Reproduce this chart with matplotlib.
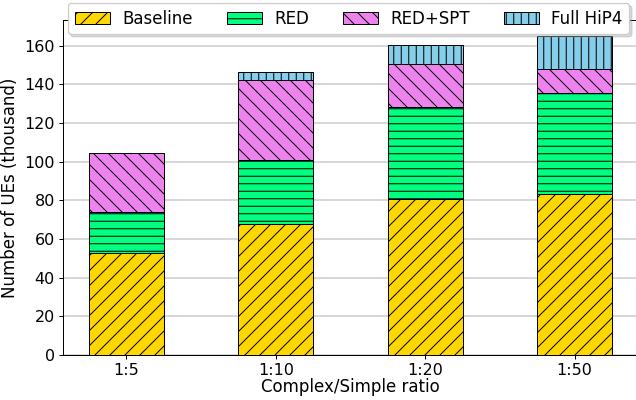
import matplotlib
matplotlib.use("Agg")
import matplotlib.pyplot as plt
import numpy as np

ratios = ["1:5", "1:10", "1:20", "1:50"]
# stacked increments (thousand UEs)
baseline = [53.0, 67.5, 80.5, 83.5]
red = [21.0, 33.5, 48.0, 52.0]
red_spt = [30.5, 41.0, 22.0, 12.5]
full_hip4 = [0.0, 4.5, 10.0, 17.0]

labels = ["Baseline", "RED", "RED+SPT", "Full HiP4"]
colors = ["gold", "springgreen", "violet", "skyblue"]
hatches = ["//", "--", "\\\\", "||"]

DPI = 90
plt.rcParams["hatch.linewidth"] = 0.8
plt.rcParams["font.size"] = 13.3

fig = plt.figure(figsize=(636 / DPI, 400 / DPI), dpi=DPI)
ax = fig.add_axes([63 / 636, 45 / 400, 575 / 636, 335 / 400])

x = np.arange(len(ratios))
bottom = np.zeros(len(ratios))
for vals, lab, col, h in zip([baseline, red, red_spt, full_hip4], labels, colors, hatches):
    ax.bar(x, vals, 0.5, bottom=bottom, color=col, hatch=h, edgecolor="black",
           linewidth=0.8, label=lab, zorder=3)
    bottom += np.array(vals)

ax.set_xticks(x)
ax.set_xticklabels(ratios)
ax.set_yticks(range(0, 161, 20))
ax.tick_params(labelsize=12.8, pad=3)
ax.set_xlabel("Complex/Simple ratio", labelpad=0)
ax.set_ylabel("Number of UEs (thousand)", labelpad=4)
ax.yaxis.grid(True, color="#cccccc", linewidth=1.2, zorder=0)
ax.set_axisbelow(True)

fig.legend(ncol=4, loc="upper left", bbox_to_anchor=(68 / 636, 1 - 3 / 400),
           fontsize=13.3, handlelength=2.1, handleheight=0.75,
           columnspacing=2.05, handletextpad=0.75, borderaxespad=0,
           borderpad=0.4, frameon=True, framealpha=1,
           shadow={"color": "0.6", "alpha": 0.35})

fig.savefig("out.png", dpi=DPI)
